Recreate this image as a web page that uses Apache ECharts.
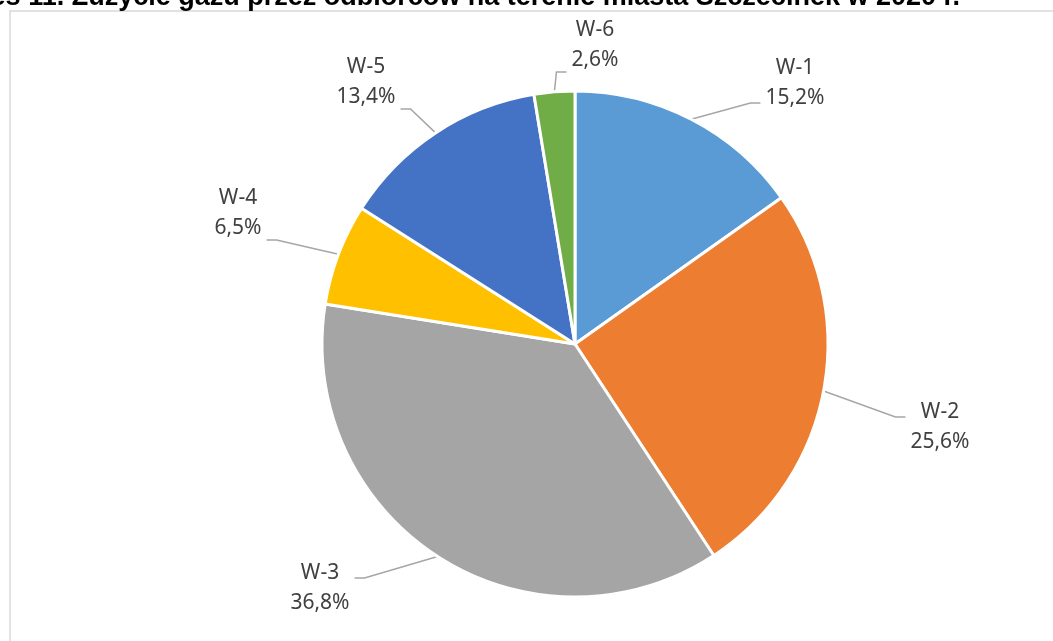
<!DOCTYPE html>
<html><head><meta charset="utf-8">
<script src="https://cdn.jsdelivr.net/npm/echarts@6/dist/echarts.min.js"></script>
<style>html,body{margin:0;padding:0;background:#fff}#c{width:1053px;height:641px}</style>
</head><body><div id="c"></div>
<script>
const categories = ['W-1','W-2','W-3','W-4','W-5','W-6'];
const values = [15.2, 25.6, 36.8, 6.5, 13.4, 2.6];
const colors = ['#5B9BD5','#ED7D31','#A5A5A5','#FFC000','#4472C4','#70AD47'];
const titleText = 'Wykres 11. Zużycie gazu przez odbiorców na terenie miasta Szczecinek w 2020 r.';
// label anchor positions (text centre)
const labelPos = [[795,83],[940,427],[320,588],[238,213],[366,82],[595,45]];

const chart = echarts.init(document.getElementById('c'));
chart.setOption({
  animation:false,
  graphic:[
    {type:'rect', shape:{x:10,y:11,width:1100,height:700}, style:{fill:'none',stroke:'#d9d9d9',lineWidth:1.5}, z:-1},
    {type:'text', x:960, y:-2, style:{text:titleText, font:'bold 27px "Liberation Sans", Arial, sans-serif', fill:'#000', align:'right', verticalAlign:'middle'}}
  ],
  series:[{
    type:'pie',
    center:[575,344],
    radius:253,
    startAngle:90,
    clockwise:true,
    data: categories.map((c,i)=>({name:c, value:values[i], itemStyle:{color:colors[i]}})),
    itemStyle:{borderColor:'#fff', borderWidth:3},
    label:{
      show:true,
      formatter:p=>p.name+'\n'+p.value.toFixed(1).replace('.',',')+'%',
      fontFamily:'"Noto Sans", sans-serif',
      fontSize:21,
      lineHeight:30,
      color:'#404040',
      align:'center'
    },
    labelLine:{show:true, length:20, length2:12, lineStyle:{color:'#a6a6a6', width:1.5}},
    labelLayout: function(params){
      const i = params.dataIndex;
      const cx = labelPos[i][0], cy = labelPos[i][1];
      const lr = params.labelRect;
      const w = lr.width;
      const out = {x:cx, y:cy, align:'center', verticalAlign:'middle'};
      const pts = params.labelLinePoints;
      if (pts && pts.length) {
        const a = pts[0];
        const rightSide = cx > a[0];
        const ex = rightSide ? cx - w/2 - 5 : cx + w/2 + 5;
        let dy = a[1] > cy ? 20 : -10;
        if (a[1] - cy > 40) dy = 27;
        const ey = cy + dy;
        const mx = rightSide ? ex - 10 : ex + 10;
        out.labelLinePoints = [[a[0], a[1]], [mx, ey], [ex, ey]];
      }
      return out;
    }
  }]
});
</script></body></html>
